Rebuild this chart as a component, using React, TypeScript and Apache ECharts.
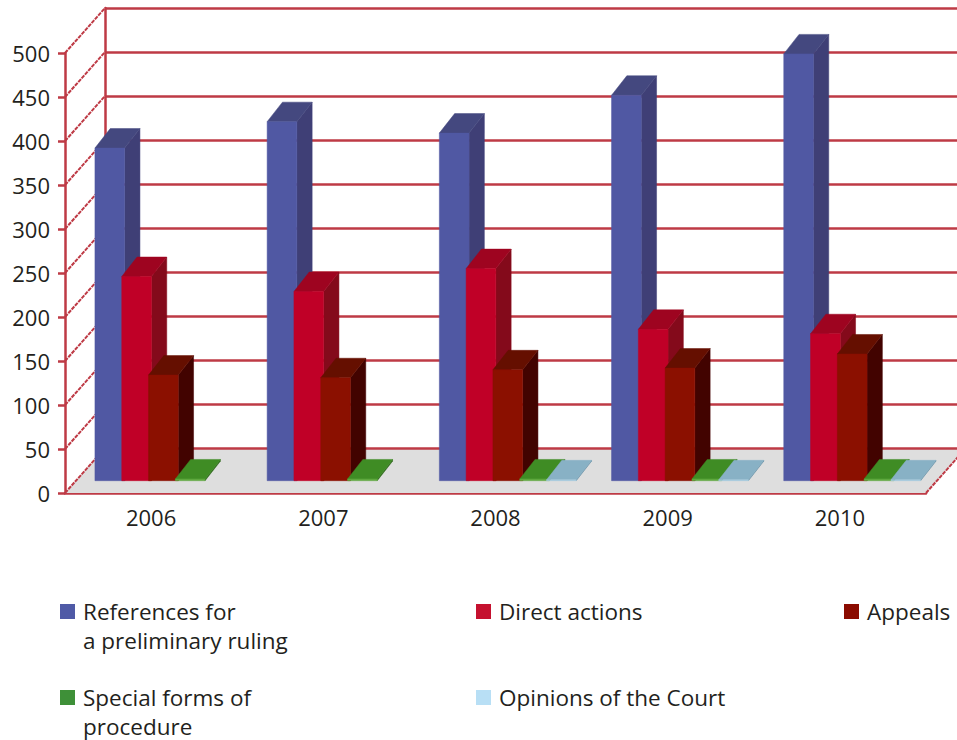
import React, { useEffect, useRef } from "react";
import * as echarts from "echarts";

const years = ["2006", "2007", "2008", "2009", "2010"];
const references = [378, 408, 395, 438, 485];
const directActions = [232, 215, 241, 172, 167];
const appeals = [120, 117, 126, 128, 144];
const specialForms = [2, 2, 2, 2, 2];
const opinions = [0, 0, 1, 1, 1];
const yTicks = [0, 50, 100, 150, 200, 250, 300, 350, 400, 450, 500];

const seriesNames = [
  "References for a preliminary ruling",
  "Direct actions",
  "Appeals",
  "Special forms of procedure",
  "Opinions of the Court",
];
const seriesValues = [references, directActions, appeals, specialForms, opinions];
const firstLines = ["References for", "Direct actions", "Appeals", "Special forms of", "Opinions of the Court"];
const secondLines = ["a preliminary ruling", "", "", "procedure", ""];

const legendColors = ["#4F5AA6", "#C5112F", "#8B0B00", "#3E9038", "#B8DFF5"];
const frontColors = ["#5058A3", "#C00027", "#8B1000", "#5FA83F", "#A6CCDF"];
const topColors = ["#44487F", "#9E0420", "#650F00", "#3F8C24", "#88B1C5"];
const sideColors = ["#3F3F76", "#840A1B", "#420300", "#2F6B1A", "#6A93A8"];
const legendLeft = [60, 476, 844, 60, 476];
const legendTop = [600, 600, 600, 686, 686];
const secondLineTop = [628, 0, 0, 714, 0];

const RED = "#BE3A45";
const TEXT = "#231F20";
const FONT = "'Open Sans', sans-serif";
const LEGEND_SIZE = 22.5;
const WALL_DX = 40;
const WALL_DY = 45;
const BAR_W = 29.7;
const BAR_STEP = 26.8;
const BAR_DX = 15.3;
const BAR_DY = 19.5;
const BASE_DX = 12.3;
const BASE_DY = 12.3;

function bar3d(s: number) {
  return (_: any, api: any) => {
    const v = api.value(1);
    if (!v) return undefined;
    const [cx, yv] = api.coord([api.value(0), v]);
    const [, y0] = api.coord([api.value(0), 0]);
    const cluster = 4 * BAR_STEP + BAR_W;
    const x1 = cx + BASE_DX - cluster / 2 + s * BAR_STEP;
    const x2 = x1 + BAR_W;
    const yb = y0 - BASE_DY;
    const yt = yv - BASE_DY;
    const poly = (points: number[][], fill: string) => ({
      type: "polygon",
      shape: { points },
      style: { fill, stroke: fill, lineWidth: 0.5 },
    });
    return {
      type: "group",
      children: [
        poly([[x2, yb], [x2 + BAR_DX, yb - BAR_DY], [x2 + BAR_DX, yt - BAR_DY], [x2, yt]], sideColors[s]),
        poly([[x1, yt], [x2, yt], [x2 + BAR_DX, yt - BAR_DY], [x1 + BAR_DX, yt - BAR_DY]], topColors[s]),
        poly([[x1, yb], [x2, yb], [x2, yt], [x1, yt]], frontColors[s]),
      ],
    };
  };
}

export default function App() {
  const ref = useRef<HTMLDivElement>(null);
  useEffect(() => {
    document.body.style.margin = "0";
    document.body.style.overflow = "hidden";
    const chart = echarts.init(ref.current!, null, { renderer: "svg" });
    const floorSeries = {
      type: "custom",
      name: "floor",
      z: 1,
      silent: true,
      clip: false,
      xAxisIndex: 0,
      yAxisIndex: 0,
      data: [[0, 0]],
      renderItem: (params: any, api: any) => {
        const { x, width } = params.coordSys;
        const [, y0] = api.coord([0, 0]);
        return {
          type: "polygon",
          shape: {
            points: [
              [x, y0],
              [x + width, y0],
              [x + width + WALL_DX, y0 - WALL_DY],
              [x + WALL_DX, y0 - WALL_DY],
            ],
          },
          style: { fill: "#DEDEDE" },
        };
      },
    };
    const wallLines = {
      type: "custom",
      name: "wall lines",
      z: 2,
      silent: true,
      clip: false,
      xAxisIndex: 0,
      yAxisIndex: 0,
      data: yTicks.map((t) => [0, t]),
      renderItem: (params: any, api: any) => {
        const x = params.coordSys.x;
        const [, y] = api.coord([0, api.value(1)]);
        const line = (x0: number) => ({
          type: "line",
          shape: { x1: x0, y1: y, x2: x0 + WALL_DX, y2: y - WALL_DY },
          style: { stroke: RED, lineWidth: 2, lineDash: [4, 1] },
        });
        const children = [line(x)];
        if (api.value(1) === 0) children.push(line(x + params.coordSys.width));
        return { type: "group", children };
      },
    };
    const bars = seriesNames.map((name, s) => ({
      type: "custom",
      name,
      z: 3 + s,
      clip: false,
      xAxisIndex: 0,
      yAxisIndex: 0,
      itemStyle: { color: legendColors[s] },
      data: seriesValues[s].map((v, i) => [i, v]),
      encode: { x: 0, y: 1 },
      renderItem: bar3d(s),
    }));
    const redLine = { color: RED, width: 2.5 };
    chart.setOption({
      animation: false,
      backgroundColor: "#FFFFFF",
      textStyle: { fontFamily: FONT, color: TEXT },
      grid: [
        { left: 65, right: 31, top: 53, bottom: 247 },
        { left: 105, right: -9, top: 8, bottom: 292 },
      ],
      xAxis: [
        {
          type: "category",
          gridIndex: 0,
          data: years,
          axisLine: { lineStyle: redLine },
          axisTick: { length: 7, lineStyle: redLine },
          axisLabel: { color: TEXT, fontSize: 22, fontFamily: FONT, margin: 13 },
        },
        { type: "category", gridIndex: 1, data: years, show: false },
      ],
      yAxis: [
        {
          type: "value",
          gridIndex: 0,
          min: 0,
          max: 500,
          interval: 50,
          axisLine: { show: true, lineStyle: redLine },
          axisTick: { show: true, length: 7, lineStyle: redLine },
          axisLabel: { color: TEXT, fontSize: 22, fontFamily: FONT, margin: 15 },
          splitLine: { show: false },
        },
        {
          type: "value",
          gridIndex: 1,
          min: 0,
          max: 500,
          interval: 50,
          z: 2,
          axisLine: { show: true, lineStyle: redLine },
          axisTick: { show: false },
          axisLabel: { show: false },
          splitLine: { show: true, lineStyle: redLine },
        },
      ],
      legend: seriesNames.map((name, s) => ({
        data: [name],
        left: legendLeft[s],
        top: legendTop[s],
        padding: 0,
        itemWidth: 15,
        itemHeight: 15,
        icon: "rect",
        selectedMode: false,
        formatter: () => firstLines[s],
        textStyle: { color: TEXT, fontSize: LEGEND_SIZE, fontFamily: FONT, padding: [0, 0, 0, 3] },
      })),
      graphic: secondLines
        .map((text, s) =>
          text
            ? {
                type: "text",
                left: legendLeft[s] + 23,
                top: secondLineTop[s],
                style: { text, fill: TEXT, fontSize: LEGEND_SIZE, lineHeight: 24, fontFamily: FONT },
              }
            : null
        )
        .filter(Boolean),
      series: [floorSeries, wallLines, ...bars],
    });
    return () => chart.dispose();
  }, []);
  return <div ref={ref} style={{ width: 957, height: 740 }} />;
}
